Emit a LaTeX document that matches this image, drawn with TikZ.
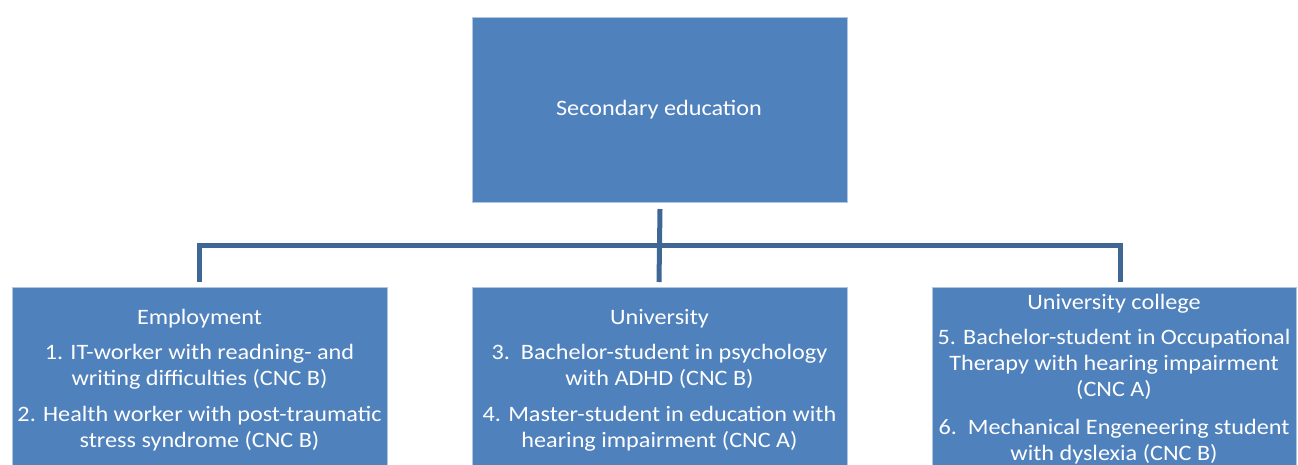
\documentclass[tikz,border=0pt]{standalone}
\usepackage{fontspec}
\setmainfont{Carlito}[FakeStretch=1.1]
\definecolor{boxblue}{HTML}{4F81BD}
\definecolor{linkblue}{HTML}{3F6796}
\begin{document}
\begin{tikzpicture}[x=1pt,y=1pt,
  box/.style={draw=white!55!boxblue, line width=1pt, fill=boxblue, inner sep=0pt,
    anchor=north west, minimum height=#1},
  box/.default=200pt,
  wide/.style={minimum width=375pt},
  txt/.style={text=white, align=center, inner sep=0pt, anchor=north,
    font=\fontsize{22}{26}\selectfont},
  link/.style={draw=linkblue, line width=5pt}]
\useasboundingbox (0,0) rectangle (1298,-464);
\clip (0,0) rectangle (1298,-464);

% boxes
\node[box=185pt, wide] (sec) at (472,-17) {};
\node[box, wide] (emp) at (12,-287) {};
\node[box, wide] (uni) at (472,-287) {};
\node[box, minimum width=364pt] (col) at (932,-287) {};

% labels
\node[txt, anchor=center] (secT) at (659,-110) {Secondary education};
\node[txt] (empT) at (199.5,-309) {Employment\\[9pt]
  1. IT-worker with readning- and\\ writing difficulties (CNC B)\\[10pt]
  2. Health worker with post-traumatic\\ stress syndrome (CNC B)};
\node[txt] (uniT) at (659.5,-309) {University\\[9pt]
  3.\ \ Bachelor-student in psychology\\ with ADHD (CNC B)\\[10pt]
  4. Master-student in education with\\ hearing impairment (CNC A)};
\node[txt] (colT) at (1114,-294) {University college\\[9pt]
  5. Bachelor-student in Occupational\\ Therapy with hearing impairment\\ (CNC A)\\[12pt]
  6.\ \ Mechanical Engeneering student\\ with dyslexia (CNC B)};

% connectors
\coordinate (hub) at (659,-245);
\coordinate (empIn) at (199,-282);
\coordinate (uniIn) at (659,-282);
\coordinate (colIn) at (1120,-282);
\draw[link] ([yshift=-6pt]sec.south) -- (uniIn);
\draw[link] (empIn) |- (hub) -| (colIn);
\end{tikzpicture}
\end{document}
